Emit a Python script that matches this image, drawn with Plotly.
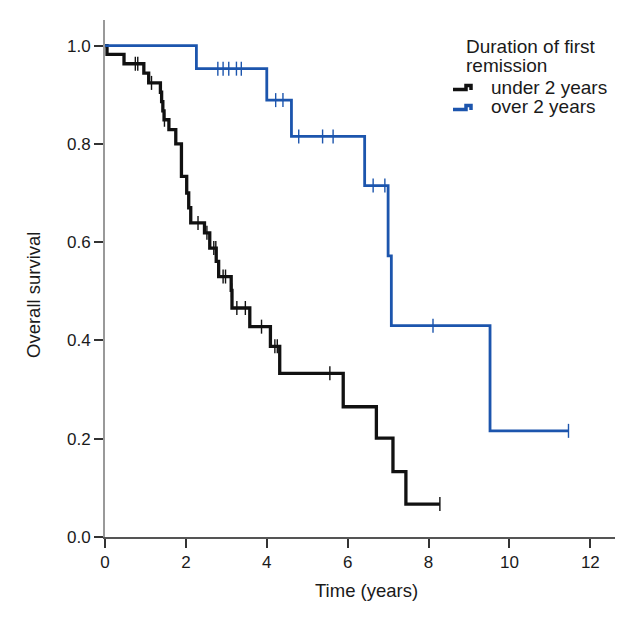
import numpy as np
import plotly.graph_objects as go

# Kaplan-Meier step data (time in years, survival after event)
under_t = [0, 0.05, 0.47, 0.96, 1.08, 1.37, 1.40, 1.43, 1.46, 1.58, 1.75, 1.89, 2.02, 2.07, 2.12,
           2.46, 2.59, 2.75, 2.81, 3.12, 3.14, 3.58, 4.09, 4.32, 5.89, 6.71, 7.12, 7.44, 8.28]
under_s = [1.0, 0.982, 0.963, 0.944, 0.924, 0.905, 0.886, 0.867, 0.849, 0.829, 0.80, 0.734, 0.70, 0.67, 0.639,
           0.619, 0.588, 0.561, 0.530, 0.502, 0.466, 0.428, 0.388, 0.333, 0.265, 0.201, 0.133, 0.067, 0.067]
under_cens = [0.75, 0.81, 1.15, 1.47, 2.30, 2.52, 2.69, 2.74, 2.92, 2.98, 3.13, 3.26, 3.47,
              3.87, 4.20, 4.26, 5.56, 8.28]

over_t = [0, 2.26, 4.00, 4.61, 6.42, 7.00, 7.08, 9.52, 11.46]
over_s = [1.0, 0.953, 0.889, 0.815, 0.715, 0.572, 0.430, 0.216, 0.216]
over_cens = [2.79, 2.92, 3.06, 3.25, 3.37, 4.22, 4.40, 4.79, 5.38, 5.64, 6.63, 6.92, 8.11, 11.46]

series_names = ["under 2 years", "over 2 years"]
legend_title = ["Duration of first", "remission"]
x_title = "Time (years)"
y_title = "Overall survival"
x_ticks = [0, 2, 4, 6, 8, 10, 12]
y_ticks = [0.0, 0.2, 0.4, 0.6, 0.8, 1.0]

BLACK = "#111111"
BLUE = "#1c55ad"
FONT = "Liberation Sans"
TXT = "#1a1a1a"

W, H = 640, 620
ML, MR, MT, MB = 97, 33, 12, 91
PW, PH = W - ML - MR, H - MT - MB


def px(xpix):  # page pixel (screenshot incl. 8px body margin) -> paper x
    return (xpix - 8 - ML) / PW


def py(ypix):
    return (H - MB - (ypix - 8)) / PH


def step_value(ts, ss, t):
    i = np.searchsorted(np.asarray(ts), t, side="right") - 1
    return ss[max(i, 0)]


fig = go.Figure()
for ts, ss, cens, col, w in [
    (under_t, under_s, under_cens, BLACK, 3.3),
    (over_t, over_s, over_cens, BLUE, 2.8),
]:
    fig.add_trace(go.Scatter(x=ts, y=ss, mode="lines", line=dict(shape="hv", color=col, width=w),
                             showlegend=False, hoverinfo="skip"))
    fig.add_trace(go.Scatter(x=cens, y=[step_value(ts, ss, c) for c in cens], mode="markers",
                             marker=dict(symbol="line-ns-open", size=10, color=col,
                                         line=dict(color=col, width=1.4)),
                             showlegend=False, hoverinfo="skip"))

# legend (drawn manually to match the step icons and tight spacing)
LFS = 19
for i, txt in enumerate(legend_title):
    fig.add_annotation(text=txt, xref="paper", yref="paper", x=px(465), y=py(46 + 20 * i),
                       xanchor="left", yanchor="middle", showarrow=False, borderpad=0,
                       font=dict(family=FONT, size=LFS, color=TXT))
for i, (name, col) in enumerate(zip(series_names, [BLACK, BLUE])):
    yc = 87 + 20 * i
    fig.add_annotation(text=name, xref="paper", yref="paper", x=px(490), y=py(yc),
                       xanchor="left", yanchor="middle", showarrow=False, borderpad=0,
                       font=dict(family=FONT, size=LFS, color=TXT))
    path = (f"M {px(453)},{py(yc + 2.5)} L {px(466)},{py(yc + 2.5)} L {px(466)},{py(yc - 1.5)} "
            f"L {px(471)},{py(yc - 1.5)} L {px(471)},{py(yc + 3)}")
    fig.add_shape(type="path", path=path, xref="paper", yref="paper",
                  line=dict(color=col, width=3.5))

# axis titles
fig.add_annotation(text=x_title, xref="paper", yref="paper", x=px(366), y=py(590),
                   xanchor="center", yanchor="middle", showarrow=False,
                   font=dict(family=FONT, size=18.5, color=TXT))
fig.add_annotation(text=y_title, xref="paper", yref="paper", x=px(33), y=py(295),
                   xanchor="center", yanchor="middle", showarrow=False, textangle=-90,
                   font=dict(family=FONT, size=18.5, color=TXT))

fig.update_layout(
    width=W, height=H,
    margin=dict(l=ML, r=MR, t=MT, b=MB),
    paper_bgcolor="white", plot_bgcolor="white",
    font=dict(family=FONT, size=17, color=TXT),
    showlegend=False,
    xaxis=dict(range=[0, 12.61], tickvals=x_ticks, ticks="outside", ticklen=9, tickwidth=1.5,
               tickcolor="#333", showline=True, linecolor="#555", linewidth=1.5,
               showgrid=False, zeroline=False, tickfont=dict(family=FONT, size=17)),
    yaxis=dict(range=[0, 1.052], tickvals=y_ticks, tickformat=".1f", ticks="outside", ticklen=9,
               tickwidth=1.5, tickcolor="#333", showline=True, linecolor="#999", linewidth=2,
               showgrid=False, zeroline=False, tickfont=dict(family=FONT, size=17)),
)

fig.write_html("out.html")
